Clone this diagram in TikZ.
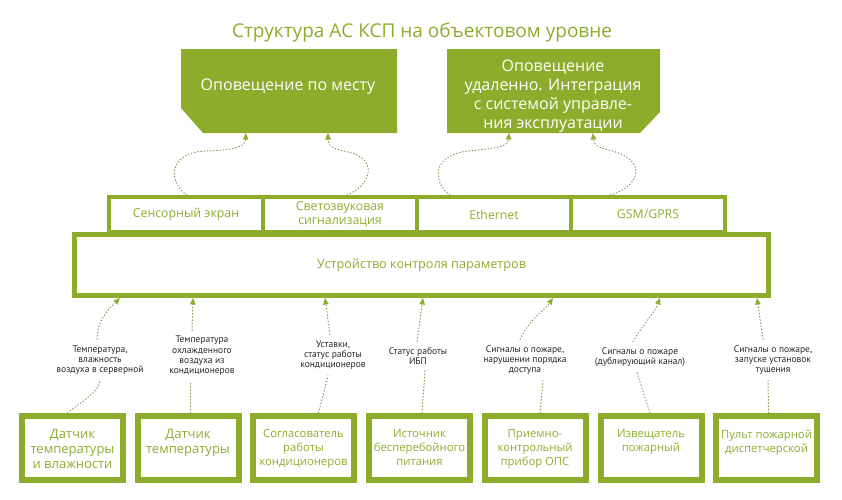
\documentclass[tikz,border=0pt]{standalone}
\usepackage{fontspec}
\setmainfont{Open Sans}
\newfontfamily\notefont{PT Sans}
\usetikzlibrary{arrows.meta}

\definecolor{ksp}{RGB}{141,172,44}
\definecolor{kspdot}{RGB}{130,145,85}
\newcommand{\boxtext}[3]{\parbox[c][37pt][t]{98pt}{\centering\fontsize{#1}{#2}\selectfont #3}}

\begin{document}
\begin{tikzpicture}[x=1pt, y=-1pt,
    title/.style ={text=ksp, font=\fontsize{19}{22}\selectfont},
    alarm/.style ={text=white, align=center, font=\fontsize{16}{19}\selectfont},
    iface/.style ={draw=ksp, line width=4pt, minimum width=154pt, minimum height=35pt,
                   inner sep=0pt, text=ksp, align=center, font=\fontsize{12.3}{14}\selectfont},
    unit/.style ={draw=ksp, line width=5pt, minimum width=694pt, minimum height=61pt,
                  text=ksp, font=\fontsize{12.7}{14}\selectfont},
    sensor/.style ={draw=ksp, line width=6pt, minimum width=101pt, minimum height=64pt,
                    inner sep=0pt, text=ksp},
    note/.style ={align=center, text=black!85, font=\notefont\fontsize{9.5}{10.3}\selectfont,
                  inner sep=1pt, outer sep=5pt},
    link/.style ={kspdot, line width=1pt, dash pattern=on 0.8pt off 2.4pt, line cap=round},
    feed/.style ={link, -{Triangle[width=5.5pt,length=6.5pt,color=ksp]}}]
   \useasboundingbox (0,0) rectangle (842,499);

   \node[title] (head) at (422,32) {Структура АС КСП на объектовом уровне};

   % alert boxes
   \fill[ksp] (181,49) -- (397,49) -- (397,133) -- (203,133) -- (181,108) -- cycle;
   \fill[ksp] (447,49) -- (660,49) -- (660,112) -- (640,133) -- (447,133) -- cycle;
   \node[alarm] (local) at (288,87) {Оповещение по месту};
   \node[alarm] (remote) at (553,96) {Оповещение\\удаленно. Интеграция\\с системой управле-\\ния эксплуатации};
   \coordinate (a1) at (246,133);
   \coordinate (a2) at (328,133);
   \coordinate (a3) at (509,133);
   \coordinate (a4) at (593,133);

   % interfaces and controller
   \node[unit] (ctrl) at (421.5,265) {\raisebox{-4pt}{Устройство контроля параметров}};
   \node[iface] (screen) at (186,214.5) {Сенсорный экран};
   \node[iface] (lights) at (340,214.5) {Светозвуковая\\сигнализация};
   \node[iface] (eth) at (494,214.5) {Ethernet};
   \node[iface] (gsm) at (648,214.5) {GSM/GPRS};

   \draw[feed] ([xshift=1pt]screen.north) .. controls (170,185) and (165,153) .. (205,151) .. controls (235,150) and (245,147) .. (a1);
   \draw[feed] ([xshift=7pt]lights.north) .. controls (372,185) and (378,158) .. (348,152) .. controls (333,149) and (328,146) .. (a2);
   \draw[feed] ([xshift=-44pt]eth.north) .. controls (435,185) and (428,156) .. (468,151) .. controls (498,148) and (508,147) .. (a3);
   \draw[feed] ([xshift=-38pt]gsm.north) .. controls (640,187) and (648,160) .. (612,151) .. controls (598,147) and (594,146) .. (a4);

   % field devices
   \node[sensor] (s1) at (72.5,448) {\boxtext{13}{15}{Датчик\\температуры\\и влажности}};
   \node[sensor] (s2) at (188,448) {\boxtext{13}{15}{Датчик\\температуры}};
   \node[sensor] (s3) at (303.5,448) {\boxtext{11.3}{14}{Согласователь\\работы\\кондиционеров}};
   \node[sensor] (s4) at (419.5,448) {\boxtext{11.3}{14}{Источник\\бесперебойного\\питания}};
   \node[sensor] (s5) at (535,448) {\boxtext{11.3}{14}{Приемно-\\контрольный\\прибор ОПС}};
   \node[sensor] (s6) at (651,448) {\boxtext{11.3}{14}{Извещатель\\пожарный}};
   \node[sensor] (s7) at (766.5,448) {\boxtext{11.3}{14}{Пульт пожарной\\диспетчерской}};

   \node[note] (n1) at (100,360) {Температура,\\влажность\\воздуха в серверной};
   \node[note] (n2) at (202,356) {Температура\\охлажденного\\воздуха из\\кондиционеров};
   \node[note] (n3) at (333,355) {Уставки,\\статус работы\\кондиционеров};
   \node[note] (n4) at (418,356) {Статус работы\\ИБП};
   \node[note] (n5) at (525,360) {Сигналы о пожаре,\\нарушении порядка\\доступа};
   \node[note] (n6) at (640,357) {Сигналы о пожаре\\(дублирующий канал)};
   \node[note] (n7) at (773,360) {Сигналы о пожаре,\\запуске установок\\тушения};

   \coordinate (m1) at (120,298);
   \coordinate (m2) at (193,298);
   \coordinate (m3) at (325,298);
   \coordinate (m4) at (423,298);
   \coordinate (m5) at (553,298);
   \coordinate (m6) at (660,298);
   \coordinate (m7) at (757,298);

   \draw[link] ([xshift=-5pt]s1.north) .. controls (80,402) and (98,394) .. (n1.south);
   \draw[feed] ([xshift=-3pt]n1.north) .. controls (97,318) and (112,306) .. (m1);
   \draw[link] ([xshift=2pt]s2.north) -- ([xshift=-12pt]n2.south);
   \draw[feed] ([xshift=-10pt]n2.north) -- (m2);
   \draw[link] ([xshift=15pt]s3.north) -- ([xshift=-5pt]n3.south);
   \draw[feed] ([xshift=-3pt]n3.north) -- (m3);
   \draw[link] ([xshift=2.5pt]s4.north) -- ([xshift=7pt]n4.south);
   \draw[feed] ([xshift=-1pt]n4.north) -- (m4);
   \draw[link] ([xshift=5pt]s5.north) -- ([xshift=18pt]n5.south);
   \draw[feed] ([xshift=-5pt]n5.north) .. controls (530,318) and (545,310) .. (m5);
   \draw[link] ([xshift=-1pt]s6.north) -- ([xshift=-3pt]n6.south);
   \draw[feed] ([xshift=-7pt]n6.north) .. controls (645,322) and (655,312) .. (m6);
   \draw[link] ([xshift=2pt]s7.north) -- ([xshift=-5pt]n7.south);
   \draw[feed] ([xshift=-10pt]n7.north) -- (m7);
 \end{tikzpicture}
\end{document}
